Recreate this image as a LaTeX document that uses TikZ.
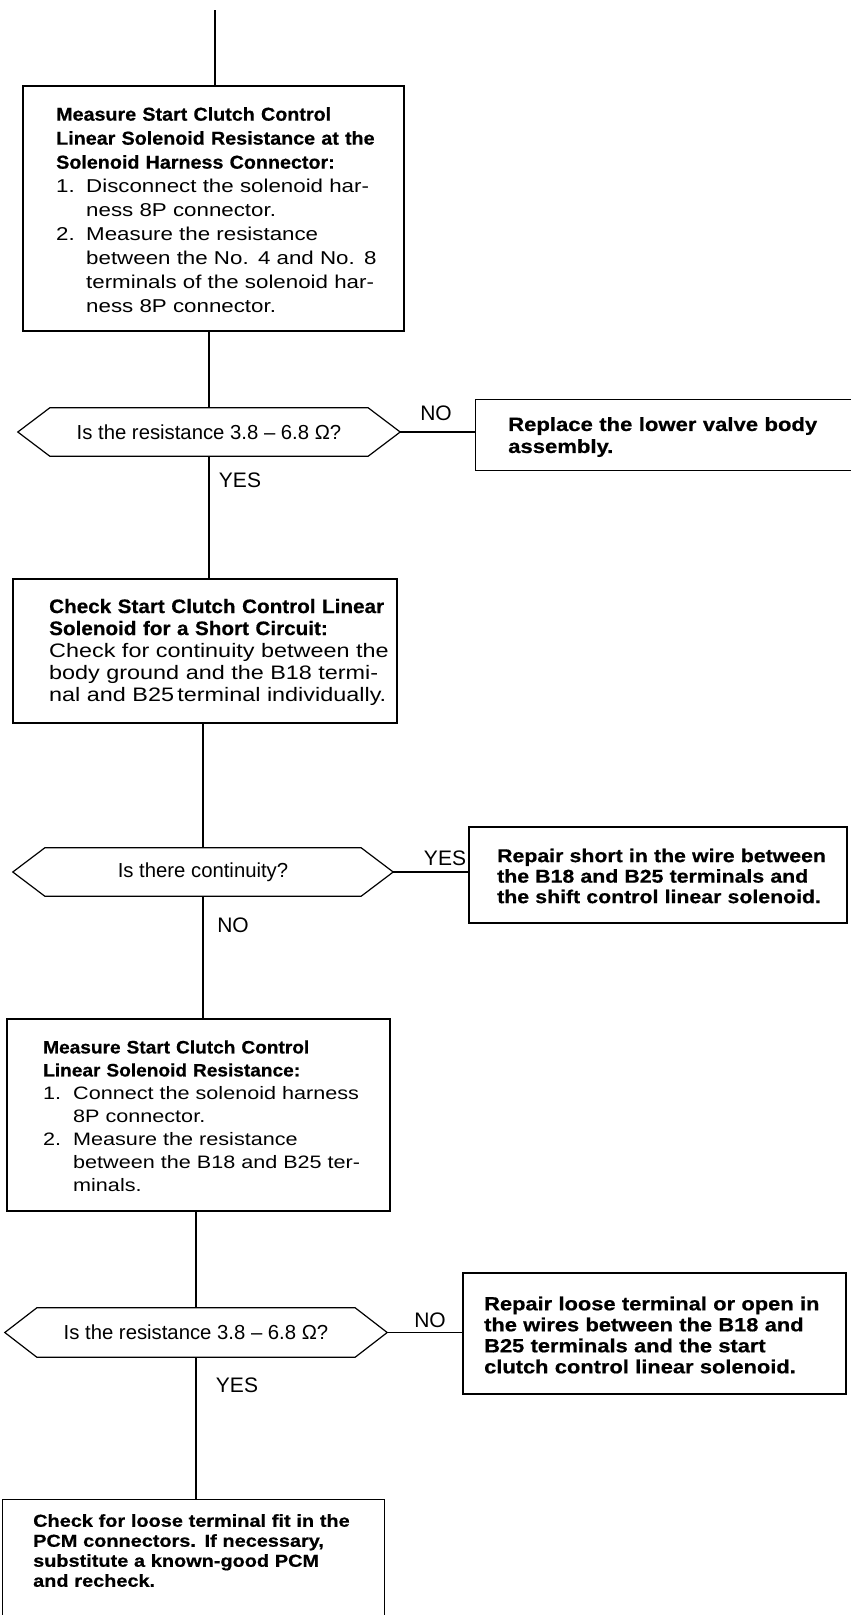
\documentclass[tikz,border=0pt]{standalone}
\usepackage{fontspec}
\setmainfont{Liberation Sans}
\newfontfamily\rwide[FakeStretch=1.2]{Liberation Sans}
\newfontfamily\bwide[FakeStretch=1.06,BoldFeatures={FakeBold=0.6}]{Liberation Sans}
\newfontfamily\bwider[FakeStretch=1.15,BoldFeatures={FakeBold=0.6}]{Liberation Sans}
\newfontfamily\plainsans{Liberation Sans}
\newcommand\hb[1]{{\bwide\bfseries #1}}
\newcommand\jl[2]{\makebox[#1][s]{#2}}
\newcommand\itemno[1]{\makebox[30pt][l]{#1}}
\newcommand\indnt{\hspace*{30pt}}
\newcommand\hexout[1]{\draw[line, line join=miter] (#1.west) -- ([xshift=32pt]#1.north west) -- ([xshift=-32pt]#1.north east) -- (#1.east) -- ([xshift=-32pt]#1.south east) -- ([xshift=32pt]#1.south west) -- cycle;}
\begin{document}
\begin{tikzpicture}[x=1pt,y=-1pt,
  line/.style={line width=1.2pt},
  box/.style={draw, line width=1.2pt, rectangle, inner sep=0pt},
  openbox/.style={rectangle, inner sep=0pt},
  txt/.style={inner sep=0pt, align=left, anchor=west},
  lbl/.style={inner sep=0pt, font=\plainsans\fontsize{21}{22}\selectfont},
  hexq/.style={rectangle, inner sep=0pt, font=\plainsans\fontsize{20.3}{22}\selectfont}
]
\fill[white] (0,0) rectangle (851,1615);
\useasboundingbox (0,0) rectangle (851,1615);

% ---- top
\coordinate (top) at (215,10);
\node[box, minimum width=381pt, minimum height=245pt] (b1) at (213.5,208.5) {};
\node[txt, text width=315pt, font=\rwide\fontsize{18.6}{24}\selectfont] (t1) at (56,210) {%
\jl{315pt}{\hb{Measure Start Clutch Control}}\\
\jl{315pt}{\hb{Linear Solenoid Resistance at the}}\\
\hb{Solenoid Harness Connector:}\\
\itemno{1.}\jl{285pt}{Disconnect the solenoid har-}\\
\indnt ness 8P connector.\\
\itemno{2.}\jl{285pt}{Measure the resistance}\\
\indnt\jl{285pt}{between the No. 4 and No. 8}\\
\indnt\jl{285pt}{terminals of the solenoid har-}\\
\indnt ness 8P connector.};

% ---- question 1
\node[hexq, minimum width=382pt, minimum height=48pt] (h1) at (209,432) {Is the resistance 3.8 – 6.8 Ω?};
\hexout{h1}
\node[lbl] (no1) at (436,413) {NO};
\node[openbox, minimum width=375pt, minimum height=70pt] (rep) at (663.5,435) {};
\draw[line] (rep.north east) -- (rep.north west) -- (rep.south west) -- (rep.south east);
\node[txt, text width=312pt, font=\bwider\bfseries\fontsize{19.2}{22}\selectfont] (trep) at (508,437) {%
\jl{312pt}{Replace the lower valve body}\\
assembly.};
\node[lbl] (yes1) at (240,480) {YES};

% ---- box 2
\node[box, minimum width=384pt, minimum height=144pt] (b2) at (205,651) {};
\node[txt, text width=345pt, font=\rwide\fontsize{19.5}{22}\selectfont] (t2) at (49,652) {%
\jl{345pt}{\hb{Check Start Clutch Control Linear}}\\
\hb{Solenoid for a Short Circuit:}\\
\jl{345pt}{Check for continuity between the}\\
\jl{345pt}{body ground and the B18 termi-}\\
nal and B25\,terminal individually.};

% ---- question 2
\node[hexq, minimum width=380pt, minimum height=48pt] (h2) at (203,872) {Is there continuity?};
\hexout{h2}
\node[lbl] (yes2) at (445,858) {YES};
\node[box, minimum width=378pt, minimum height=96pt] (short) at (658,875) {};
\node[txt, text width=331pt, font=\bwider\bfseries\fontsize{18.5}{20.5}\selectfont] (tshort) at (497,876) {%
\jl{331pt}{Repair short in the wire between}\\
\jl{331pt}{the B18 and B25 terminals and}\\
the shift control linear solenoid.};
\node[lbl] (no2) at (233,925) {NO};

% ---- box 3
\node[box, minimum width=383pt, minimum height=192pt] (b3) at (198.5,1115) {};
\node[txt, text width=318pt, font=\rwide\fontsize{18}{23}\selectfont] (t3) at (43,1116) {%
\jl{318pt}{\hb{Measure Start Clutch Control}}\\
\hb{Linear Solenoid Resistance:}\\
\itemno{1.}\jl{285pt}{Connect the solenoid harness}\\
\indnt 8P connector.\\
\itemno{2.}\jl{285pt}{Measure the resistance}\\
\indnt\jl{285pt}{between the B18 and B25 ter-}\\
\indnt minals.};

% ---- question 3
\node[hexq, minimum width=382pt, minimum height=49pt] (h3) at (196,1332.5) {Is the resistance 3.8 – 6.8 Ω?};
\hexout{h3}
\node[lbl] (no3) at (430,1320) {NO};
\node[box, minimum width=383pt, minimum height=121pt] (loose) at (654.5,1333.5) {};
\node[txt, text width=334pt, font=\bwider\bfseries\fontsize{19}{21}\selectfont] (tloose) at (484,1335) {%
\jl{334pt}{Repair loose terminal or open in}\\
\jl{334pt}{the wires between the B18 and}\\
\jl{334pt}{B25 terminals and the start}\\
clutch control linear solenoid.};
\node[lbl] (yes3) at (237,1385) {YES};

% ---- box 5 (cut off at bottom)
\node[openbox, minimum width=381pt, minimum height=115pt] (b5) at (193.5,1557.5) {};
\draw[line] (b5.south west) -- (b5.north west) -- (b5.north east) -- (b5.south east);
\node[txt, anchor=north west, text width=315pt, font=\bwider\bfseries\fontsize{17.3}{20}\selectfont] (t5) at (33,1514) {%
\jl{315pt}{Check for loose terminal fit in the}\\
\jl{315pt}{PCM connectors. If necessary,}\\
\jl{315pt}{substitute a known-good PCM}\\
and recheck.};

% ---- connectors
\draw[line] (top) -- (top |- b1.north);
\draw[line] (h1.north) -- (h1.north |- b1.south);
\draw[line] (h1.east) -- (h1.east -| rep.west);
\draw[line] (h1.south) -- (h1.south |- b2.north);
\draw[line] (h2.north) -- (h2.north |- b2.south);
\draw[line] (h2.east) -- (h2.east -| short.west);
\draw[line] (h2.south) -- (h2.south |- b3.north);
\draw[line] (h3.north) -- (h3.north |- b3.south);
\draw[line] (h3.east) -- (h3.east -| loose.west);
\draw[line] (h3.south) -- (h3.south |- b5.north);
\end{tikzpicture}
\end{document}
